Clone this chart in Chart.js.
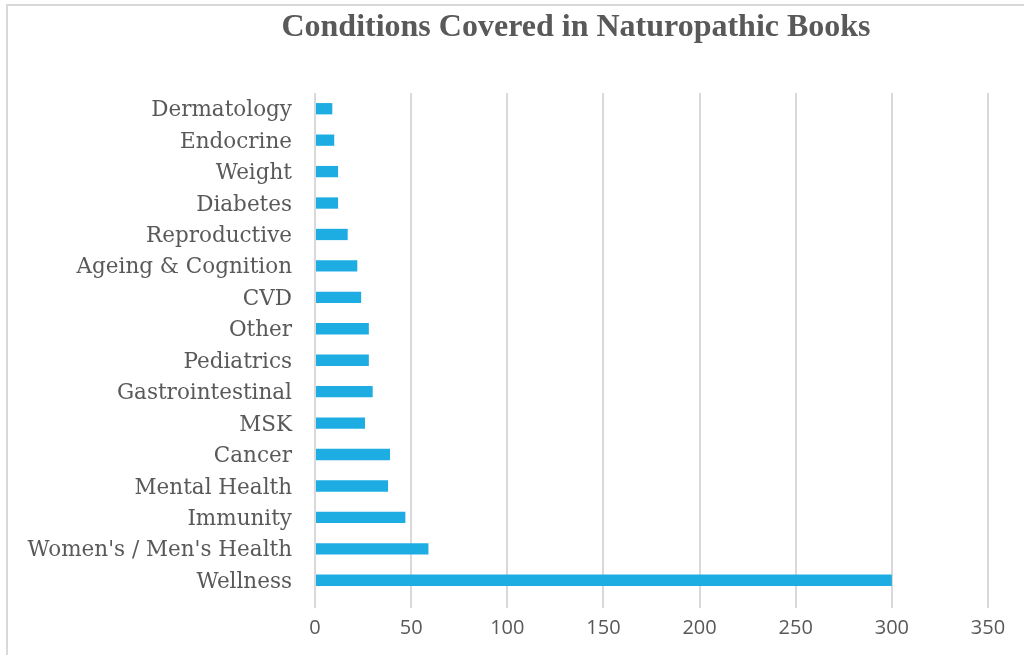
<!DOCTYPE html>
<html>
<head>
<meta charset="utf-8">
<script src="https://cdn.jsdelivr.net/npm/chart.js@4"></script>
<style>
  html, body { margin: 0; padding: 0; background: #fff; overflow: hidden; }
  #marco { position: absolute; left: 6px; top: 4px; width: 1040px; height: 700px; border: 2px solid #d9d9d9; }
  #grafico { position: absolute; left: 0; top: 0; }
</style>
</head>
<body>
<div id="marco"></div>
<canvas id="grafico" width="1024" height="655"></canvas>
<script>
// Datos del gráfico (de arriba a abajo)
let categorias = ['Dermatology', 'Endocrine', 'Weight', 'Diabetes', 'Reproductive', 'Ageing & Cognition', 'CVD', 'Other',
    'Pediatrics', 'Gastrointestinal', 'MSK', 'Cancer', 'Mental Health', 'Immunity', "Women's / Men's Health", 'Wellness'];
let valores = [9, 10, 12, 12, 17, 22, 24, 28, 28, 30, 26, 39, 38, 47, 59, 300];
let ticksX = [0, 50, 100, 150, 200, 250, 300, 350];
let titulo = 'Conditions Covered in Naturopathic Books';

// El título no está centrado en el lienzo, lo pintamos a mano
let pluginTitulo = {
    id: 'tituloDesplazado',
    afterDraw: function(chart) {
        let c = chart.ctx;
        c.save();
        c.font = 'bold 32px "Liberation Serif"';
        c.fillStyle = '#595959';
        c.textAlign = 'center';
        c.textBaseline = 'middle';
        c.fillText(titulo, 576, 28);
        c.restore();
    }
};

let ctx = document.getElementById('grafico').getContext('2d');
let miGrafico = new Chart(ctx, {
    type: 'bar',
    data: {
        labels: categorias,
        datasets: [{
            data: valores,
            backgroundColor: '#1EADE3',
            borderWidth: 0,
            barPercentage: 0.36,
            categoryPercentage: 1
        }]
    },
    options: {
        indexAxis: 'y',
        responsive: false,
        animation: false,
        layout: { padding: { left: 0, right: 36, top: 93, bottom: 0 } },
        plugins: {
            legend: { display: false },
            tooltip: { enabled: false },
            title: { display: false }
        },
        scales: {
            x: {
                min: 0,
                max: 350,
                afterBuildTicks: function(scale) {
                    scale.ticks = ticksX.map(function(v) { return { value: v }; });
                },
                afterFit: function(scale) { scale.height = 59; },
                grid: { color: '#d9d9d9', lineWidth: 2, tickLength: 12, drawTicks: true },
                border: { display: false },
                ticks: {
                    color: '#595959',
                    padding: 8,
                    font: { family: 'Open Sans', size: 20 }
                }
            },
            y: {
                afterFit: function(scale) { scale.width = 315; },
                grid: { display: false, drawTicks: false },
                border: { display: false },
                ticks: {
                    color: '#595959',
                    padding: 23,
                    labelOffset: 2,
                    autoSkip: false,
                    font: { family: 'DejaVu Serif', size: 21.5 }
                }
            }
        }
    },
    plugins: [pluginTitulo]
});
</script>
</body>
</html>
